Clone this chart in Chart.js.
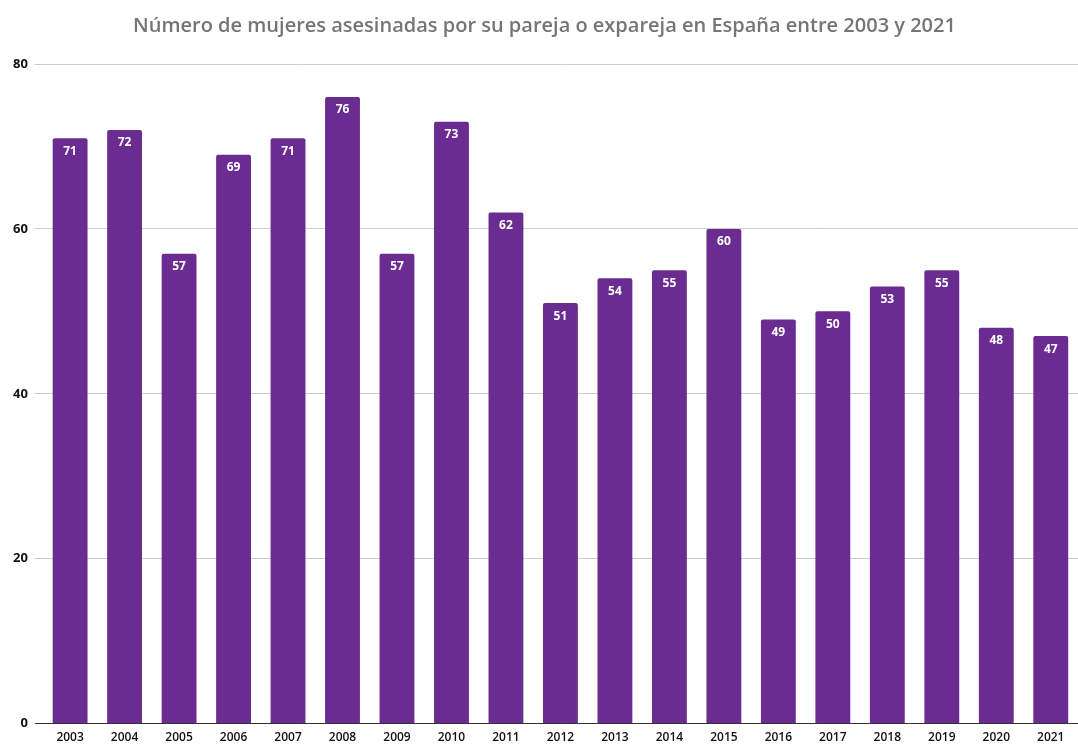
<!DOCTYPE html>
<html lang="es">
<head>
  <meta charset="UTF-8" />
  <title>Mujeres asesinadas 2003-2021</title>
  <script src="https://cdn.jsdelivr.net/npm/chart.js"></script>
  <style>
    html, body { margin: 0; padding: 0; background: #fff; }
    #wrap { width: 1078px; height: 745px; }
  </style>
</head>
<body>
  <div id="wrap"><canvas id="chart"></canvas></div>
  <script>
    const years = ['2003','2004','2005','2006','2007','2008','2009','2010','2011','2012',
                   '2013','2014','2015','2016','2017','2018','2019','2020','2021'];
    const victims = [71, 72, 57, 69, 71, 76, 57, 73, 62, 51, 54, 55, 60, 49, 50, 53, 55, 48, 47];
    const yTicks = [0, 20, 40, 60, 80];

    // draw value labels inside the top of each bar
    const barLabels = {
      id: 'barLabels',
      afterDatasetsDraw(chart) {
        const ctx = chart.ctx;
        const meta = chart.getDatasetMeta(0);
        ctx.save();
        ctx.fillStyle = '#ffffff';
        ctx.font = 'bold 12px "Open Sans", sans-serif';
        ctx.textAlign = 'center';
        ctx.textBaseline = 'middle';
        meta.data.forEach((bar, i) => {
          ctx.fillText(victims[i], bar.x, bar.y + 13);
        });
        ctx.restore();
      }
    };

    new Chart(document.getElementById('chart'), {
      type: 'bar',
      data: {
        labels: years,
        datasets: [{
          data: victims,
          backgroundColor: '#6a2c91',
          borderRadius: { topLeft: 2, topRight: 2 },
          borderSkipped: 'bottom',
          barPercentage: 0.64,
          categoryPercentage: 1
        }]
      },
      options: {
        responsive: true,
        maintainAspectRatio: false,
        animation: false,
        layout: { padding: { left: 6, right: -5, top: 4, bottom: -7 } },
        plugins: {
          legend: { display: false },
          tooltip: { enabled: false },
          title: {
            display: true,
            text: 'Número de mujeres asesinadas por su pareja o expareja en España entre 2003 y 2021',
            color: '#757575',
            font: { family: '"Open Sans", sans-serif', size: 20, weight: '600' },
            padding: { top: 10, bottom: 26 }
          }
        },
        scales: {
          x: {
            grid: { display: false, drawTicks: false },
            border: { color: '#333', width: 1 },
            ticks: {
              color: '#111',
              font: { family: '"Open Sans", sans-serif', size: 12, weight: '600' },
              maxRotation: 0,
              autoSkip: false,
              padding: 7
            }
          },
          y: {
            min: 0,
            max: 80,
            afterBuildTicks(axis) { axis.ticks = yTicks.map(v => ({ value: v })); },
            grid: {
              color: ctx => ctx.tick && ctx.tick.value === 0 ? '#333' : '#cccccc',
              tickLength: 8,
              tickColor: ctx => ctx.tick && ctx.tick.value === 0 ? '#333' : '#cccccc'
            },
            border: { display: false },
            ticks: {
              color: '#111',
              font: { family: '"Open Sans", sans-serif', size: 13, weight: '700' },
              padding: 7
            }
          }
        }
      },
      plugins: [barLabels]
    });
  </script>
</body>
</html>
